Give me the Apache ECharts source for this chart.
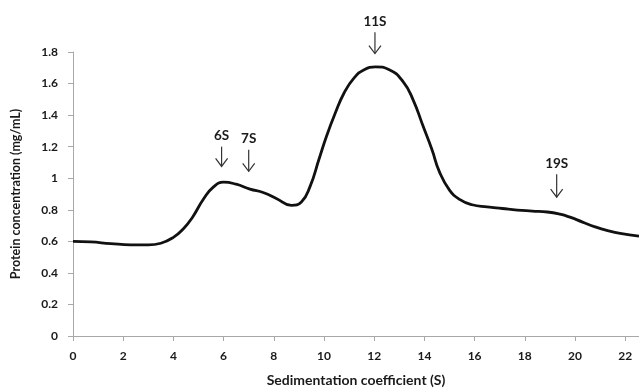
<!DOCTYPE html>
<html>
<head>
<meta charset="utf-8">
<script src="https://cdn.jsdelivr.net/npm/echarts@6/dist/echarts.min.js"></script>
<style>html,body{margin:0;padding:0;background:#fff;}#c{width:639px;height:392px;}</style>
</head>
<body>
<div id="c"></div>
<script>
// Curve: sedimentation coefficient (S) vs protein concentration (mg/mL)
const sedX = [0,0.7,1.5,2.3,3.0,3.5,4.0,4.4,4.75,5.2,5.6,6.0,6.5,7.05,7.6,8.1,8.7,9.1,9.45,9.8,10.1,10.45,10.8,11.2,11.6,12.05,12.6,13.15,13.55,13.95,14.3,14.6,15.0,15.4,15.9,16.5,17.1,17.7,18.3,18.9,19.4,19.8,20.3,20.8,21.3,21.8,22.55];
const conc = [0.600,0.596,0.586,0.578,0.577,0.588,0.625,0.68,0.750,0.868,0.945,0.975,0.962,0.931,0.908,0.872,0.828,0.850,0.950,1.12,1.266,1.413,1.540,1.636,1.688,1.706,1.688,1.612,1.497,1.329,1.182,1.040,0.925,0.866,0.832,0.818,0.808,0.798,0.792,0.786,0.772,0.753,0.722,0.692,0.668,0.650,0.633];
// Annotations (arrows)
const annoLabels = ['6S','7S','11S','19S'];
const annoX = [5.92,7.0,12.03,19.27];
const annoTip = [1.075,1.044,1.79,0.88];
const annoTail = [1.20,1.18,1.925,1.025];
// Axis ticks
const xTicks = [0,2,4,6,8,10,12,14,16,18,20,22];
const yTicks = [0,0.2,0.4,0.6,0.8,1,1.2,1.4,1.6,1.8];

const FONT = 'Lato';
const TXT = '#1a1a1a';
const chart = echarts.init(document.getElementById('c'));
chart.setOption({
  animation: false,
  backgroundColor: '#fff',
  grid: {left: 73, right: 0, top: 52, bottom: 54},
  xAxis: {
    type: 'value', min: 0, max: 22.55, interval: 2,
    name: 'Sedimentation coefficient (S)', nameLocation: 'middle', nameGap: 37,
    nameTextStyle: {fontFamily: FONT, fontWeight: 'bold', fontSize: 14, color: TXT},
    axisLine: {lineStyle: {color: '#a8a8a8', width: 1}},
    axisTick: {show: true, length: 5, lineStyle: {color: '#a8a8a8'}},
    axisLabel: {fontFamily: FONT, fontWeight: 'bold', fontSize: 12, color: TXT, margin: 14, showMaxLabel: false,
      formatter: v => xTicks.indexOf(v) >= 0 ? String(v) : ''},
    splitLine: {show: false}
  },
  yAxis: {
    type: 'value', min: 0, max: 1.8, interval: 0.2,
    name: 'Protein concentration (mg/mL)', nameLocation: 'middle', nameGap: 51,
    nameTextStyle: {fontFamily: FONT, fontWeight: 'bold', fontSize: 12.5, color: TXT},
    axisLine: {show: true, lineStyle: {color: '#a8a8a8', width: 1}},
    axisTick: {show: true, length: 5, lineStyle: {color: '#a8a8a8'}},
    axisLabel: {fontFamily: FONT, fontWeight: 'bold', fontSize: 12, color: TXT, margin: 15,
      formatter: v => { const t = yTicks.find(k => Math.abs(k - v) < 1e-6); return t === undefined ? '' : String(t); }},
    splitLine: {show: false}
  },
  series: [
    {
      type: 'line', smooth: 0.5, showSymbol: false, symbol: 'none',
      data: sedX.map((x, i) => [x, conc[i]]),
      lineStyle: {color: '#111', width: 2.8}
    },
    {
      type: 'custom', clip: false, silent: true,
      data: annoX.map((x, i) => [x, annoTip[i], annoTail[i]]),
      renderItem: (params, api) => {
        const i = params.dataIndex;
        const tip = api.coord([api.value(0), api.value(1)]);
        const tail = api.coord([api.value(0), api.value(2)]);
        const st = {stroke: '#333', lineWidth: 1.2, fill: null};
        return {
          type: 'group',
          children: [
            {type: 'line', shape: {x1: tail[0], y1: tail[1], x2: tip[0], y2: tip[1]}, style: st},
            {type: 'polyline', shape: {points: [[tip[0]-6, tip[1]-8], [tip[0], tip[1]], [tip[0]+6, tip[1]-8]]}, style: st},
            {type: 'text', style: {text: annoLabels[i], x: tail[0], y: tail[1] - 4, align: 'center', verticalAlign: 'bottom',
              fontFamily: FONT, fontWeight: 'bold', fontSize: 13.5, fill: TXT}}
          ]
        };
      }
    }
  ]
});
</script>
</body>
</html>
